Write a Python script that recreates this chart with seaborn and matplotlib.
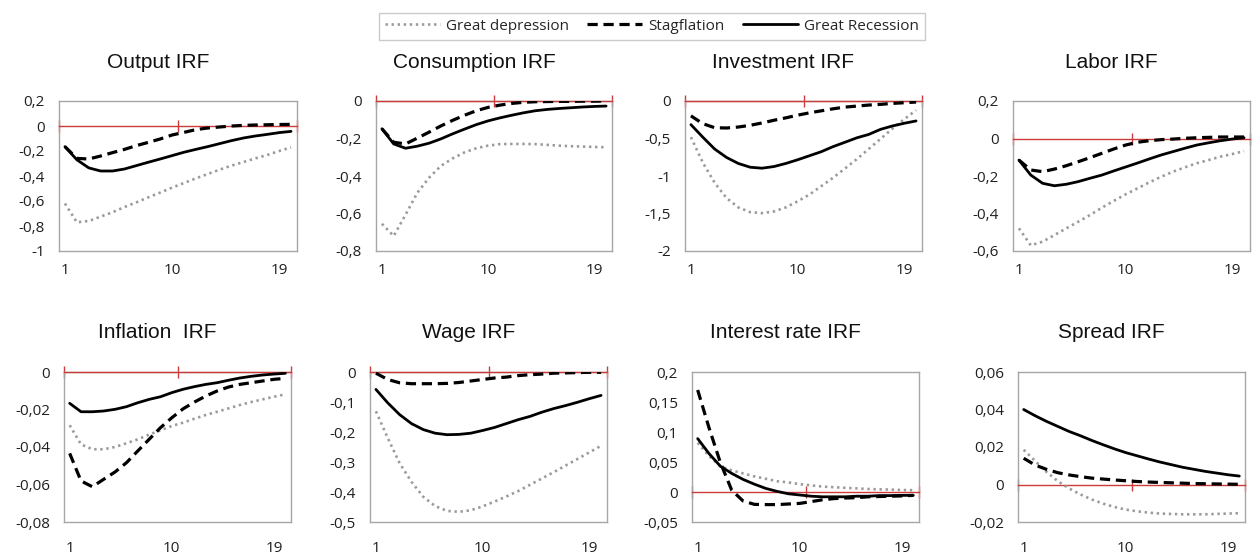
import numpy as np
import matplotlib
matplotlib.use("Agg")
import matplotlib.pyplot as plt
from matplotlib.ticker import FuncFormatter
import seaborn as sns

# periods after the shock
periods = list(range(1, 21))
series_names = ["Great depression", "Stagflation", "Great Recession"]

# Output IRF
output_gd = [-0.62, -0.77, -0.76, -0.725, -0.69, -0.648, -0.611, -0.571, -0.533, -0.493,
             -0.456, -0.419, -0.384, -0.349, -0.317, -0.288, -0.259, -0.232, -0.2, -0.171]
output_st = [-0.165, -0.259, -0.264, -0.24, -0.213, -0.187, -0.157, -0.131, -0.104, -0.072,
             -0.051, -0.029, -0.016, -0.008, 0.0, 0.005, 0.008, 0.01, 0.012, 0.013]
output_gr = [-0.165, -0.27, -0.335, -0.36, -0.36, -0.344, -0.317, -0.29, -0.264, -0.237,
             -0.21, -0.187, -0.165, -0.141, -0.117, -0.096, -0.08, -0.067, -0.053, -0.043]

# Consumption IRF
cons_gd = [-0.655, -0.72, -0.607, -0.49, -0.409, -0.346, -0.306, -0.274, -0.252, -0.238,
           -0.23, -0.229, -0.229, -0.23, -0.234, -0.238, -0.241, -0.243, -0.245, -0.247]
cons_st = [-0.148, -0.22, -0.229, -0.198, -0.166, -0.133, -0.103, -0.076, -0.052, -0.034,
           -0.022, -0.013, -0.007, -0.004, -0.003, -0.002, -0.002, -0.001, -0.001, 0.0]
cons_gr = [-0.148, -0.229, -0.252, -0.241, -0.225, -0.202, -0.175, -0.15, -0.126, -0.106,
           -0.09, -0.076, -0.063, -0.052, -0.045, -0.04, -0.036, -0.032, -0.029, -0.027]

# Investment IRF
inv_gd = [-0.482, -0.82, -1.09, -1.293, -1.419, -1.482, -1.495, -1.473, -1.419, -1.338,
          -1.248, -1.135, -1.023, -0.9, -0.775, -0.64, -0.505, -0.369, -0.243, -0.122]
inv_st = [-0.198, -0.302, -0.356, -0.36, -0.347, -0.324, -0.293, -0.257, -0.225, -0.189,
          -0.158, -0.131, -0.104, -0.081, -0.068, -0.054, -0.045, -0.032, -0.023, -0.014]
inv_gr = [-0.315, -0.482, -0.64, -0.752, -0.833, -0.883, -0.896, -0.874, -0.833, -0.784,
          -0.73, -0.676, -0.608, -0.55, -0.491, -0.446, -0.378, -0.333, -0.297, -0.266]

# Labor IRF
lab_gd = [-0.479, -0.57, -0.55, -0.515, -0.479, -0.444, -0.408, -0.369, -0.333, -0.298,
          -0.266, -0.234, -0.204, -0.177, -0.154, -0.132, -0.115, -0.097, -0.083, -0.067]
lab_st = [-0.115, -0.168, -0.177, -0.163, -0.145, -0.124, -0.102, -0.079, -0.056, -0.035,
          -0.02, -0.012, -0.006, -0.003, 0.001, 0.004, 0.006, 0.008, 0.008, 0.008]
lab_gr = [-0.115, -0.195, -0.239, -0.252, -0.244, -0.23, -0.212, -0.195, -0.173, -0.152,
          -0.131, -0.109, -0.088, -0.07, -0.052, -0.035, -0.023, -0.012, -0.003, 0.004]

# Inflation IRF
inf_gd = [-0.0284, -0.0386, -0.0412, -0.0412, -0.04, -0.038, -0.0359, -0.0334, -0.0311, -0.0288,
          -0.027, -0.0249, -0.0229, -0.0212, -0.0194, -0.0176, -0.016, -0.0146, -0.0132, -0.0119]
inf_st = [-0.0434, -0.0581, -0.0612, -0.0572, -0.0533, -0.0484, -0.0421, -0.0359, -0.0297, -0.0244,
          -0.0196, -0.016, -0.0128, -0.0101, -0.008, -0.0066, -0.0057, -0.0048, -0.0039, -0.0034]
inf_gr = [-0.0167, -0.0212, -0.0212, -0.0208, -0.0199, -0.0185, -0.0164, -0.0146, -0.0132, -0.011,
          -0.0092, -0.0078, -0.0066, -0.0057, -0.0044, -0.0032, -0.0023, -0.0016, -0.0011, -0.0007]

# Wage IRF
wage_gd = [-0.131, -0.22, -0.304, -0.366, -0.416, -0.447, -0.463, -0.466, -0.461, -0.448,
           -0.432, -0.415, -0.397, -0.376, -0.355, -0.334, -0.312, -0.29, -0.268, -0.246]
wage_st = [-0.004, -0.025, -0.036, -0.039, -0.039, -0.039, -0.038, -0.035, -0.03, -0.025,
           -0.02, -0.017, -0.012, -0.009, -0.007, -0.004, -0.003, -0.002, -0.001, -0.001]
wage_gr = [-0.058, -0.103, -0.142, -0.172, -0.192, -0.204, -0.209, -0.208, -0.204, -0.195,
           -0.185, -0.172, -0.159, -0.148, -0.134, -0.122, -0.112, -0.101, -0.089, -0.078]

# Interest rate IRF
int_gd = [0.082, 0.06, 0.043, 0.036, 0.031, 0.026, 0.022, 0.018, 0.016, 0.013,
          0.011, 0.009, 0.008, 0.007, 0.006, 0.005, 0.0044, 0.004, 0.0033, 0.003]
int_st = [0.17, 0.107, 0.049, 0.003, -0.015, -0.0206, -0.021, -0.021, -0.02, -0.019,
          -0.016, -0.013, -0.011, -0.01, -0.0095, -0.008, -0.0075, -0.007, -0.0065, -0.0056]
int_gr = [0.089, 0.064, 0.043, 0.031, 0.021, 0.013, 0.006, 0.001, -0.003, -0.005,
          -0.007, -0.008, -0.008, -0.008, -0.007, -0.007, -0.006, -0.006, -0.0056, -0.0056]

# Spread IRF
spr_gd = [0.0185, 0.0126, 0.0068, 0.0018, -0.0021, -0.0053, -0.008, -0.0102, -0.012, -0.0134,
          -0.0143, -0.015, -0.0155, -0.0157, -0.0159, -0.0159, -0.0159, -0.0157, -0.0155, -0.0153]
spr_st = [0.014, 0.0104, 0.0081, 0.0063, 0.0051, 0.0042, 0.0034, 0.0029, 0.0024, 0.002,
          0.0016, 0.0013, 0.0011, 0.0009, 0.0007, 0.0005, 0.0004, 0.0003, 0.0002, 0.0001]
spr_gr = [0.04, 0.0367, 0.0337, 0.031, 0.0283, 0.026, 0.0235, 0.0212, 0.019, 0.017,
          0.0153, 0.0136, 0.012, 0.0106, 0.0092, 0.0081, 0.007, 0.0061, 0.0052, 0.0045]

x_labels = [1, 10, 19]

sns.set_theme(style="white")
plt.rcParams["font.family"] = ["Open Sans", "DejaVu Sans"]

W, H = 1256, 558
BOX_H = 150
GRAY = "#a6a6a6"
RED = "#cc3b3b"

# title, series, (ymin, ymax, step), (left px, top px, width px)
panels = [
    ("Output IRF", output_gd, output_st, output_gr, (-1, 0.2, 0.2), (59, 101, 238)),
    ("Consumption IRF", cons_gd, cons_st, cons_gr, (-0.8, 0, 0.2), (376, 101, 236)),
    ("Investment IRF", inv_gd, inv_st, inv_gr, (-2, 0, 0.5), (685, 101, 237)),
    ("Labor IRF", lab_gd, lab_st, lab_gr, (-0.6, 0.2, 0.2), (1013, 101, 237)),
    ("Inflation  IRF", inf_gd, inf_st, inf_gr, (-0.08, 0, 0.02), (64, 372, 227)),
    ("Wage IRF", wage_gd, wage_st, wage_gr, (-0.5, 0, 0.1), (370, 372, 237)),
    ("Interest rate IRF", int_gd, int_st, int_gr, (-0.05, 0.2, 0.05), (692, 372, 227)),
    ("Spread IRF", spr_gd, spr_st, spr_gr, (-0.02, 0.06, 0.02), (1018, 372, 227)),
]


def comma_fmt(v, pos):
    v = round(v, 6)
    if abs(v) < 1e-9:
        return "0"
    return f"{v:g}".replace(".", ",")


fig = plt.figure(figsize=(W / 100, H / 100), dpi=100)
axes = []

for title, gd, st, gr, (lo, hi, step), (left, top, width) in panels:
    ax = fig.add_axes([left / W, 1 - (top + BOX_H) / H, width / W, BOX_H / H])
    axes.append(ax)

    sns.lineplot(x=periods, y=gd, ax=ax, color="#9a9a9a", lw=1.9,
                 linestyle=(0, (0.9, 1.4)), label=series_names[0], legend=False, zorder=3)
    sns.lineplot(x=periods, y=st, ax=ax, color="black", lw=2.3,
                 linestyle=(0, (3.2, 1.8)), label=series_names[1], legend=False, zorder=3)
    sns.lineplot(x=periods, y=gr, ax=ax, color="black", lw=2.0,
                 label=series_names[2], legend=False, zorder=3)

    ax.set_xlim(0.5, 20.5)
    ax.set_ylim(lo, hi)
    ax.set_yticks(np.round(np.arange(lo, hi + step / 2, step), 6))
    ax.yaxis.set_major_formatter(FuncFormatter(comma_fmt))
    ax.tick_params(axis="y", length=0, pad=10, labelsize=11, labelcolor="#202020")
    ax.set_xlabel("")
    ax.set_ylabel("")

    # red category axis crossing at zero
    ax.spines["bottom"].set_position(("data", 0))
    ax.spines["bottom"].set_color(RED)
    ax.spines["bottom"].set_linewidth(1.0)
    ax.spines["bottom"].set_zorder(2.6)
    ax.set_xticks([0.5, 10.5, 20.5])
    ax.tick_params(axis="x", direction="inout", length=8, width=1, color=RED,
                   labelbottom=False, bottom=True)
    for s in ["left", "right", "top"]:
        ax.spines[s].set_color(GRAY)
        ax.spines[s].set_linewidth(1.0)

    # category labels along the bottom of the box
    sec = ax.secondary_xaxis("bottom")
    sec.set_xticks(x_labels)
    sec.tick_params(length=0, pad=9 if top < 200 else 14, labelsize=11, labelcolor="#202020")
    sec.spines["bottom"].set_color(GRAY)
    sec.spines["bottom"].set_linewidth(1.0)

    ax.text(0.5 - 20 / width, 1 + 39 / BOX_H, title, transform=ax.transAxes,
            ha="center", va="center", fontsize=15, family=["Liberation Sans", "DejaVu Sans"],
            color="#111111")

handles = axes[0].get_lines()[:3]
fig.legend(handles, series_names, loc="upper center", bbox_to_anchor=(652 / W, 1 - 5 / H),
           ncol=3, frameon=True, fancybox=False, edgecolor="#bfbfbf", fontsize=11,
           handlelength=3.6, handletextpad=0.4, columnspacing=1.2, borderpad=0.4)

fig.savefig("out.png", dpi=100, facecolor="white")
